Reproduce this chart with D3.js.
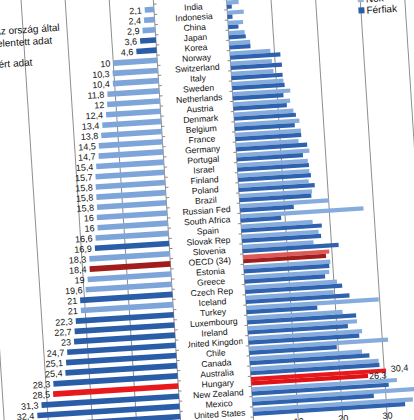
<!DOCTYPE html>
<html>
<head>
<meta charset="utf-8">
<script src="https://cdnjs.cloudflare.com/ajax/libs/d3/7.8.5/d3.min.js"></script>
<style>
  body { margin: 0; background: #fff; }
  svg { display: block; }
  text { font-family: "Liberation Sans", Arial, sans-serif; fill: #111; }
</style>
</head>
<body>
<div id="container"></div>
<script>
const WIDTH = 414,
      HEIGHT = 420;

const countries = ["India", "Indonesia", "China", "Japan", "Korea", "Norway", "Switzerland",
    "Italy", "Sweden", "Netherlands", "Austria", "Denmark", "Belgium", "France", "Germany",
    "Portugal", "Israel", "Finland", "Poland", "Brazil", "Russian Fed", "South Africa", "Spain",
    "Slovak Rep", "Slovenia", "OECD (34)", "Estonia", "Greece", "Czech Rep", "Iceland", "Turkey",
    "Luxembourg", "Ireland", "United Kingdom", "Chile", "Canada", "Australia", "Hungary",
    "New Zealand", "Mexico", "United States"];

// összes (bal oldal)
const total = [2.1, 2.4, 2.9, 3.6, 4.6, 10, 10.3, 10.4, 11.8, 12, 12.4, 13.4, 13.8, 14.5, 14.7,
    15.4, 15.7, 15.8, 15.8, 15.8, 16, 16, 16.6, 16.9, 18.3, 18.4, 19, 19.6, 21, 21, 22.3,
    22.7, 23, 24.7, 25.1, 25.4, 28.3, 28.5, 31.3, 32.4, 36.5];

// "r" = az ország által jelentett, "m" = mért, "o" = OECD átlag
const source = ["r", "r", "r", "m", "m", "r", "r", "r", "r", "r", "r", "r", "r", "r", "r",
    "r", "r", "r", "r", "r", "r", "r", "r", "m", "r", "o", "r", "r", "m", "r", "m",
    "m", "m", "m", "m", "m", "m", "m", "m", "m", "m"];

const women = [2.7, 3.7, 3.4, 3.6, 4.7, 9.1, 9.3, 9.5, 11.6, 13.0, 12.8, 13.4, 14.6, 14.8, 14.1,
    16.4, 15.9, 16.1, 15.8, 16.4, 20.1, 27.7, 16.1, 17.3, 16.0, 19.4, 19.5, 19.1, 20.7, 19.8, 29.8,
    21.5, 24.6, 25.6, 31.3, 25.3, 28.9, 30.4, 32.7, 37.5, 36.0];

const men = [1.1, 1.1, 2.3, 3.8, 4.7, 11.3, 11.5, 11.5, 11.8, 11.4, 12.0, 13.9, 13.5, 14.8, 16.0,
    14.9, 16.1, 16.4, 17.1, 16.2, 12.1, 9.1, 18.1, 17.8, 21.6, 18.6, 19.2, 18.1, 21.8, 23.3, 15.9,
    24.5, 22.5, 24.9, 19.7, 26.9, 29.0, 26.3, 30.8, 27.3, 34.2];

const xTicks = [0, 10, 20, 30, 40];
const leftLegend = [["Az ország által", "jelentett adat"], ["Mért adat"]];
const rightLegend = ["Nők", "Férfiak"];

const colors = {
    r: "#7da5da",
    m: "#295da8",
    women: "#86acdd",
    men: "#2f62ae",
    hun: "#e8191c",
    hunMen: "#df1217",
    oecd: "#a11d1d",
    oecdWomen: "#dc5b58",
    grid: "#8e8e8e"
};

const fmt = (v) => String(v).replace(".", ",");

const rows = countries.map((c, i) => ({
    country: c,
    total: total[i],
    source: source[i],
    women: women[i],
    men: men[i]
}));

const svg = d3.select('#container')
    .append('svg')
    .attr("width", WIDTH)
    .attr("height", HEIGHT);

svg.append("rect")
    .attr("width", WIDTH)
    .attr("height", HEIGHT)
    .attr("fill", "#fff");

// a fotó kicsit el van forgatva
const chart = svg.append("g")
    .attr("transform", "rotate(-3.7, 207, 210)");

const yScale = d3.scaleBand()
    .domain(countries)
    .range([1.3, 419.5]);

const xLeft = d3.scaleLinear()
    .domain([0, 40])
    .range([167, -9]);

const xRight = d3.scaleLinear()
    .domain([0, 40])
    .range([240, 418]);

const bw = yScale.bandwidth();

// rácsvonalak
chart.selectAll(".gridL")
    .data(xTicks)
    .join("line")
    .attr("class", "gridL")
    .attr("x1", (d) => xLeft(d))
    .attr("x2", (d) => xLeft(d))
    .attr("y1", -40)
    .attr("y2", 440)
    .attr("stroke", colors.grid)
    .attr("stroke-width", 1);

chart.selectAll(".gridR")
    .data(xTicks)
    .join("line")
    .attr("class", "gridR")
    .attr("x1", (d) => xRight(d))
    .attr("x2", (d) => xRight(d))
    .attr("y1", -40)
    .attr("y2", 440)
    .attr("stroke", colors.grid)
    .attr("stroke-width", 1);

// kategória tengely osztásai
const bounds = countries.map((c) => yScale(c)).concat([yScale.range()[1]]);

chart.selectAll(".tickL")
    .data(bounds)
    .join("line")
    .attr("class", "tickL")
    .attr("x1", xLeft(0))
    .attr("x2", xLeft(0) + 3)
    .attr("y1", (d) => d)
    .attr("y2", (d) => d)
    .attr("stroke", colors.grid);

chart.selectAll(".tickR")
    .data(bounds)
    .join("line")
    .attr("class", "tickR")
    .attr("x1", xRight(0) - 3)
    .attr("x2", xRight(0))
    .attr("y1", (d) => d)
    .attr("y2", (d) => d)
    .attr("stroke", colors.grid);

// bal oldal: összes
const leftFill = (d) => {
    if (d.country === "Hungary") return colors.hun;
    if (d.source === "o") return colors.oecd;
    return colors[d.source];
};

chart.selectAll(".barL")
    .data(rows)
    .join("rect")
    .attr("class", "barL")
    .attr("x", (d) => xLeft(d.total))
    .attr("width", (d) => xLeft(0) - xLeft(d.total))
    .attr("y", (d) => yScale(d.country) + (bw - 5.6) / 2)
    .attr("height", 5.6)
    .attr("fill", leftFill);

chart.selectAll(".valL")
    .data(rows)
    .join("text")
    .attr("class", "valL")
    .attr("x", (d) => xLeft(d.total) - 3)
    .attr("y", (d) => yScale(d.country) + bw / 2)
    .attr("dy", "0.36em")
    .attr("text-anchor", "end")
    .attr("font-size", 9)
    .text((d) => fmt(d.total));

// jobb oldal: nők / férfiak
const womenFill = (d) => d.country === "Hungary" ? colors.hun
    : d.source === "o" ? colors.oecdWomen : colors.women;
const menFill = (d) => d.country === "Hungary" ? colors.hunMen
    : d.source === "o" ? colors.oecd : colors.men;

chart.selectAll(".barW")
    .data(rows)
    .join("rect")
    .attr("class", "barW")
    .attr("x", xRight(0))
    .attr("width", (d) => xRight(d.women) - xRight(0))
    .attr("y", (d) => yScale(d.country) + 0.9)
    .attr("height", 4.2)
    .attr("fill", womenFill);

chart.selectAll(".barM")
    .data(rows)
    .join("rect")
    .attr("class", "barM")
    .attr("x", xRight(0))
    .attr("width", (d) => xRight(d.men) - xRight(0))
    .attr("y", (d) => yScale(d.country) + 5.1)
    .attr("height", 4.2)
    .attr("fill", menFill);

// Magyarország címkéi
const hun = rows.filter((d) => d.country === "Hungary");

chart.selectAll(".valHW")
    .data(hun)
    .join("text")
    .attr("class", "valHW")
    .attr("x", (d) => xRight(d.women) + 5)
    .attr("y", (d) => yScale(d.country) + 1.5)
    .attr("dy", "0.36em")
    .attr("font-size", 9)
    .text((d) => fmt(d.women));

chart.selectAll(".valHM")
    .data(hun)
    .join("text")
    .attr("class", "valHM")
    .attr("x", (d) => xRight(d.men) + 1)
    .attr("y", (d) => yScale(d.country) + 7.5)
    .attr("dy", "0.36em")
    .attr("font-size", 9)
    .text((d) => fmt(d.men));

// országnevek középen
svg.append("defs")
    .append("clipPath")
    .attr("id", "labelClip")
    .append("rect")
    .attr("x", 179)
    .attr("y", -40)
    .attr("width", 55)
    .attr("height", 480);

chart.append("g")
    .attr("clip-path", "url(#labelClip)")
    .selectAll(".name")
    .data(rows)
    .join("text")
    .attr("class", "name")
    .attr("x", 206.5)
    .attr("y", (d) => yScale(d.country) + bw / 2)
    .attr("dy", "0.36em")
    .attr("text-anchor", "middle")
    .attr("font-size", 8.6)
    .text((d) => d.country);

// alsó tengely (jobb)
const xAxis = d3.axisBottom(xRight)
    .tickValues(xTicks)
    .tickSize(0)
    .tickPadding(4);

chart.append("g")
    .attr("transform", `translate(0, ${yScale.range()[1]})`)
    .call(xAxis)
    .call((g) => g.select(".domain").remove())
    .selectAll("text")
    .attr("font-size", 9)
    .attr("fill", "#111");

// jelmagyarázat bal
const legL = chart.append("g");
const legLy = [18, 51];
const legLx = [6, 0];
leftLegend.forEach((lines, i) => {
    legL.append("rect")
        .attr("x", legLx[i] - 11)
        .attr("y", legLy[i] - 3)
        .attr("width", 6)
        .attr("height", 6)
        .attr("fill", i === 0 ? colors.r : colors.m);
    lines.forEach((t, j) => {
        legL.append("text")
            .attr("x", legLx[i])
            .attr("y", legLy[i] + j * 12.3)
            .attr("dy", "0.36em")
            .attr("font-size", 10)
            .text(t);
    });
});

// jelmagyarázat jobb
const legR = chart.append("g");
rightLegend.forEach((t, i) => {
    legR.append("rect")
        .attr("x", 371)
        .attr("y", 9.5 + i * 11.3 - 3)
        .attr("width", 6)
        .attr("height", 6)
        .attr("fill", i === 0 ? "#9db6d8" : colors.m);
    legR.append("text")
        .attr("x", 379)
        .attr("y", 9.5 + i * 11.3)
        .attr("dy", "0.36em")
        .attr("font-size", 10)
        .text(t);
});
</script>
</body>
</html>
